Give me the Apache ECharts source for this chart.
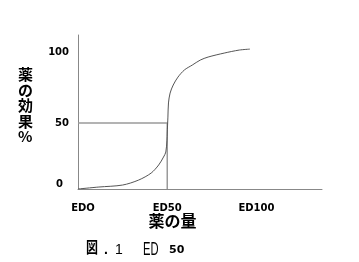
<!DOCTYPE html>
<html><head><meta charset="utf-8">
<script src="https://cdn.jsdelivr.net/npm/echarts@6/dist/echarts.min.js"></script>
<style>html,body{margin:0;padding:0;background:#fff}#c{width:359px;height:262px}</style>
</head><body><div id="c"></div>
<script>
const doseX = [0, 11.7, 25, 34, 41, 45.2, 47.9, 49.2, 49.84, 50, 50.37, 50.69, 51.6, 53.35, 56, 59.6, 64, 68.5, 72.9, 81.9, 90.4, 96.3];
const effectY = [0, 1.5, 3, 6.8, 12.1, 18.2, 24.2, 28, 37, 42.4, 54.5, 65.2, 72.7, 78.8, 84.8, 90.2, 93.9, 97.7, 100, 103, 105.3, 106];
const xTickValues = [0, 50, 100];
const xTickLabels = ['EDO', 'ED50', 'ED100'];
const yTickValues = [0, 50, 100];
const refPoint = [50, 50];

const chart = echarts.init(document.getElementById('c'), null, {renderer: 'canvas'});
const numFont = {fontFamily: 'DejaVu Sans', fontWeight: 'bold', fontSize: 10, color: '#000'};
function txt(x, y, text, family, size, weight, opts) {
  return Object.assign({
    type: 'text', x: x, y: y,
    style: {text: text, fontFamily: family, fontSize: size, fontWeight: weight || 'normal', fill: '#000',
            align: (opts && opts.align) || 'left', verticalAlign: 'middle'}
  }, opts && opts.scaleX ? {scaleX: opts.scaleX} : {});
}
chart.setOption({
  animation: false,
  grid: {left: 78, top: 35, right: 37, bottom: 73},
  xAxis: {
    type: 'value', min: 0, max: 136.7,
    axisLine: {lineStyle: {color: '#888', width: 1}},
    axisTick: {show: false},
    splitLine: {show: false},
    axisLabel: Object.assign({
      customValues: xTickValues, margin: 14,
      formatter: v => v === 0 ? '{f|' + xTickLabels[0] + '}' : (xTickLabels[xTickValues.indexOf(v)] || ''),
      rich: {f: Object.assign({padding: [0, 0, 0, 10]}, numFont)}
    }, numFont)
  },
  yAxis: {
    type: 'value', min: 0, max: 116.7,
    axisLine: {show: true, lineStyle: {color: '#888', width: 1}},
    axisTick: {show: false},
    splitLine: {show: false},
    axisLabel: Object.assign({
      customValues: yTickValues, margin: 9,
      formatter: v => v === 0 ? '{z|0}' : (v === 100 ? '{h|100}' : String(v)),
      rich: {
        z: Object.assign({padding: [0, 6, 10, 0]}, numFont),
        h: Object.assign({padding: [0, 0, 10, 0]}, numFont)
      }
    }, numFont)
  },
  series: [
    {
      type: 'line', data: [[0, refPoint[1]], refPoint, [refPoint[0], 0]],
      symbol: 'none', lineStyle: {color: '#9a9a9a', width: 1.5}, silent: true
    },
    {
      type: 'line', data: doseX.map((x, i) => [x, effectY[i]]),
      symbol: 'none', smooth: 0.3,
      lineStyle: {color: '#555', width: 1}
    }
  ],
  graphic: [
    {type: 'text', left: 18, top: 67, style: {text: '薬\nの\n効\n果\n%', font: 'bold 15px "Noto Sans CJK JP"', lineHeight: 15.5, fill: '#000', align: 'center'}},
    txt(172.5, 221, '薬の量', 'Noto Sans CJK JP', 16, 'bold', {align: 'center'}),
    txt(86, 247, '図', 'Noto Sans CJK JP', 16, 'bold', {scaleX: 0.75}),
    txt(104, 250, '.', 'Liberation Sans', 14, 'bold'),
    txt(115, 250, '1', 'Liberation Sans', 14, 'normal'),
    txt(143, 250, 'ED', 'Liberation Sans', 18, 'normal', {scaleX: 0.62}),
    txt(169, 250.5, '50', 'DejaVu Sans', 11, 'bold')
  ]
});
</script></body></html>
